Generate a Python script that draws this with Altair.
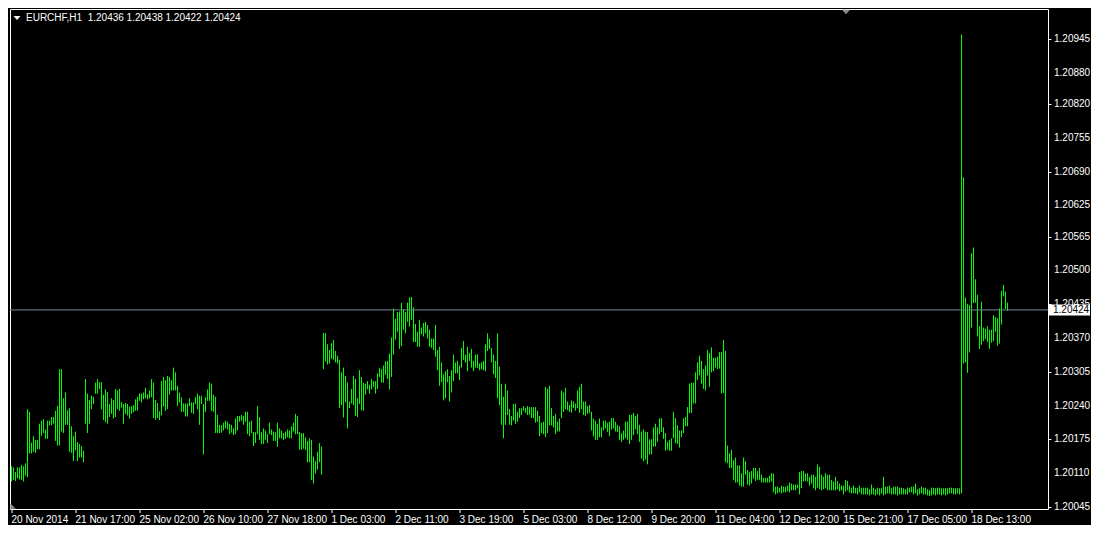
import altair as alt
import pandas as pd

symbol = "EURCHF,H1"
last_bar_ohlc = [1.20436, 1.20438, 1.20422, 1.20424]
bid_price = 1.20424

bar_high = [
    1.20123,1.20121,1.20112,1.20121,1.20121,1.20126,1.20123,1.20129,1.20233,1.20228,
    1.20169,1.20181,1.20174,1.20174,1.20205,1.20211,1.20214,1.20194,1.20211,1.20211,
    1.20218,1.20218,1.20230,1.20239,1.20310,1.20310,1.20254,1.20265,1.20231,1.20235,
    1.20200,1.20181,1.20190,1.20170,1.20166,1.20162,1.20153,1.20291,1.20263,1.20251,
    1.20259,1.20257,1.20284,1.20291,1.20285,1.20285,1.20261,1.20271,1.20266,1.20243,
    1.20254,1.20251,1.20272,1.20269,1.20272,1.20247,1.20243,1.20245,1.20243,1.20238,
    1.20239,1.20241,1.20252,1.20257,1.20263,1.20263,1.20265,1.20274,1.20262,1.20269,
    1.20291,1.20284,1.20251,1.20245,1.20229,1.20287,1.20295,1.20289,1.20297,1.20295,
    1.20289,1.20313,1.20304,1.20278,1.20265,1.20256,1.20244,1.20244,1.20244,1.20254,
    1.20246,1.20246,1.20256,1.20263,1.20259,1.20259,1.20243,1.20256,1.20271,1.20284,
    1.20282,1.20261,1.20257,1.20222,1.20203,1.20202,1.20207,1.20211,1.20209,1.20205,
    1.20203,1.20196,1.20215,1.20220,1.20220,1.20222,1.20220,1.20228,1.20228,1.20209,
    1.20211,1.20189,1.20189,1.20239,1.20218,1.20189,1.20196,1.20192,1.20185,1.20207,
    1.20194,1.20190,1.20189,1.20207,1.20196,1.20192,1.20187,1.20190,1.20194,1.20192,
    1.20200,1.20207,1.20224,1.20220,1.20189,1.20187,1.20187,1.20179,1.20172,1.20177,
    1.20174,1.20142,1.20133,1.20151,1.20168,1.20161,1.20380,1.20379,1.20358,1.20347,
    1.20360,1.20366,1.20345,1.20336,1.20328,1.20304,1.20313,1.20297,1.20285,1.20248,
    1.20272,1.20297,1.20291,1.20254,1.20308,1.20295,1.20284,1.20282,1.20287,1.20280,
    1.20291,1.20287,1.20287,1.20302,1.20312,1.20310,1.20317,1.20325,1.20326,1.20340,
    1.20371,1.20427,1.20407,1.20420,1.20421,1.20438,1.20425,1.20420,1.20438,1.20448,
    1.20449,1.20429,1.20397,1.20382,1.20405,1.20390,1.20399,1.20401,1.20395,1.20386,
    1.20369,1.20369,1.20395,1.20347,1.20353,1.20323,1.20300,1.20306,1.20310,1.20297,
    1.20308,1.20338,1.20323,1.20326,1.20317,1.20351,1.20364,1.20338,1.20353,1.20341,
    1.20349,1.20326,1.20338,1.20339,1.20321,1.20323,1.20326,1.20358,1.20379,1.20369,
    1.20351,1.20338,1.20326,1.20379,1.20315,1.20282,1.20257,1.20282,1.20269,1.20233,
    1.20220,1.20243,1.20244,1.20228,1.20235,1.20235,1.20239,1.20235,1.20239,1.20237,
    1.20237,1.20237,1.20237,1.20230,1.20220,1.20207,1.20209,1.20276,1.20272,1.20278,
    1.20235,1.20220,1.20224,1.20209,1.20215,1.20269,1.20265,1.20274,1.20248,1.20241,
    1.20250,1.20248,1.20244,1.20269,1.20276,1.20282,1.20248,1.20248,1.20239,1.20241,
    1.20228,1.20215,1.20211,1.20205,1.20215,1.20198,1.20211,1.20211,1.20207,1.20209,
    1.20216,1.20216,1.20209,1.20203,1.20200,1.20187,1.20192,1.20209,1.20209,1.20222,
    1.20222,1.20226,1.20220,1.20224,1.20203,1.20190,1.20194,1.20190,1.20189,1.20175,
    1.20175,1.20198,1.20205,1.20198,1.20215,1.20216,1.20198,1.20187,1.20170,1.20174,
    1.20177,1.20228,1.20216,1.20202,1.20192,1.20192,1.20215,1.20218,1.20237,1.20282,
    1.20284,1.20284,1.20304,1.20323,1.20336,1.20326,1.20310,1.20317,1.20347,1.20341,
    1.20352,1.20332,1.20332,1.20334,1.20343,1.20343,1.20366,1.20345,1.20163,1.20148,
    1.20155,1.20135,1.20140,1.20125,1.20125,1.20110,1.20140,1.20133,1.20116,1.20112,
    1.20114,1.20120,1.20120,1.20114,1.20120,1.20107,1.20101,1.20101,1.20101,1.20105,
    1.20110,1.20109,1.20084,1.20084,1.20082,1.20086,1.20084,1.20084,1.20086,1.20092,
    1.20090,1.20088,1.20088,1.20088,1.20112,1.20114,1.20114,1.20109,1.20110,1.20103,
    1.20107,1.20107,1.20103,1.20127,1.20122,1.20107,1.20103,1.20110,1.20107,1.20107,
    1.20097,1.20094,1.20103,1.20095,1.20090,1.20086,1.20086,1.20097,1.20095,1.20086,
    1.20082,1.20086,1.20082,1.20082,1.20086,1.20082,1.20082,1.20082,1.20082,1.20079,
    1.20088,1.20082,1.20079,1.20082,1.20081,1.20081,1.20103,1.20084,1.20084,1.20086,
    1.20081,1.20084,1.20084,1.20084,1.20082,1.20082,1.20081,1.20079,1.20082,1.20082,
    1.20084,1.20084,1.20090,1.20079,1.20081,1.20084,1.20082,1.20082,1.20079,1.20077,
    1.20082,1.20082,1.20081,1.20082,1.20082,1.20081,1.20081,1.20081,1.20081,1.20082,
    1.20082,1.20081,1.20081,1.20081,1.20081,1.20954,1.20679,1.20448,1.20436,1.20433,
    1.20533,1.20544,1.20483,1.20453,1.20393,1.20440,1.20390,1.20388,1.20393,1.20386,
    1.20386,1.20414,1.20410,1.20408,1.20427,1.20461,1.20472,1.20459,1.20438,
]

bar_low = [
    1.20094,1.20097,1.20095,1.20100,1.20098,1.20097,1.20094,1.20105,1.20102,1.20148,
    1.20148,1.20151,1.20149,1.20156,1.20156,1.20182,1.20187,1.20176,1.20176,1.20202,
    1.20202,1.20205,1.20172,1.20163,1.20163,1.20190,1.20187,1.20203,1.20203,1.20151,
    1.20149,1.20133,1.20154,1.20133,1.20140,1.20140,1.20131,1.20205,1.20187,1.20205,
    1.20233,1.20243,1.20263,1.20263,1.20272,1.20233,1.20212,1.20208,1.20205,1.20218,
    1.20224,1.20215,1.20218,1.20233,1.20230,1.20236,1.20205,1.20224,1.20221,1.20215,
    1.20224,1.20227,1.20230,1.20230,1.20249,1.20246,1.20252,1.20254,1.20252,1.20254,
    1.20256,1.20216,1.20213,1.20216,1.20212,1.20221,1.20238,1.20230,1.20233,1.20261,
    1.20269,1.20269,1.20269,1.20239,1.20246,1.20228,1.20228,1.20219,1.20219,1.20239,
    1.20226,1.20224,1.20243,1.20233,1.20203,1.20243,1.20146,1.20228,1.20249,1.20249,
    1.20230,1.20228,1.20187,1.20187,1.20187,1.20188,1.20192,1.20196,1.20194,1.20185,
    1.20188,1.20183,1.20185,1.20192,1.20209,1.20211,1.20203,1.20209,1.20185,1.20181,
    1.20187,1.20162,1.20168,1.20185,1.20174,1.20166,1.20166,1.20174,1.20168,1.20185,
    1.20183,1.20172,1.20172,1.20161,1.20177,1.20177,1.20174,1.20176,1.20179,1.20177,
    1.20177,1.20190,1.20185,1.20185,1.20155,1.20155,1.20157,1.20155,1.20131,1.20131,
    1.20097,1.20090,1.20109,1.20117,1.20131,1.20107,1.20310,1.20325,1.20319,1.20321,
    1.20330,1.20328,1.20323,1.20321,1.20235,1.20241,1.20217,1.20246,1.20196,1.20235,
    1.20244,1.20241,1.20220,1.20218,1.20243,1.20231,1.20230,1.20261,1.20271,1.20263,
    1.20271,1.20276,1.20263,1.20272,1.20295,1.20284,1.20284,1.20299,1.20291,1.20271,
    1.20295,1.20338,1.20367,1.20382,1.20349,1.20354,1.20386,1.20379,1.20401,1.20392,
    1.20405,1.20362,1.20362,1.20353,1.20353,1.20377,1.20373,1.20379,1.20369,1.20353,
    1.20351,1.20347,1.20334,1.20308,1.20278,1.20285,1.20250,1.20254,1.20285,1.20248,
    1.20265,1.20287,1.20302,1.20302,1.20289,1.20313,1.20328,1.20323,1.20306,1.20326,
    1.20313,1.20306,1.20313,1.20312,1.20308,1.20310,1.20308,1.20306,1.20345,1.20349,
    1.20323,1.20300,1.20293,1.20254,1.20241,1.20203,1.20177,1.20203,1.20222,1.20203,
    1.20202,1.20211,1.20205,1.20209,1.20216,1.20222,1.20230,1.20226,1.20222,1.20222,
    1.20216,1.20216,1.20207,1.20209,1.20181,1.20187,1.20185,1.20179,1.20187,1.20202,
    1.20202,1.20198,1.20185,1.20190,1.20190,1.20216,1.20228,1.20233,1.20231,1.20228,
    1.20226,1.20235,1.20230,1.20235,1.20226,1.20233,1.20222,1.20220,1.20224,1.20226,
    1.20192,1.20181,1.20174,1.20174,1.20179,1.20179,1.20192,1.20196,1.20189,1.20181,
    1.20194,1.20196,1.20190,1.20189,1.20174,1.20170,1.20174,1.20177,1.20174,1.20166,
    1.20174,1.20183,1.20194,1.20185,1.20170,1.20138,1.20133,1.20136,1.20127,1.20146,
    1.20146,1.20161,1.20161,1.20170,1.20185,1.20189,1.20176,1.20153,1.20155,1.20153,
    1.20153,1.20177,1.20168,1.20166,1.20159,1.20179,1.20187,1.20200,1.20200,1.20226,
    1.20226,1.20244,1.20244,1.20289,1.20298,1.20282,1.20272,1.20269,1.20298,1.20276,
    1.20304,1.20306,1.20313,1.20310,1.20311,1.20263,1.20264,1.20131,1.20129,1.20120,
    1.20120,1.20097,1.20092,1.20092,1.20086,1.20084,1.20084,1.20107,1.20088,1.20086,
    1.20090,1.20099,1.20095,1.20097,1.20097,1.20092,1.20092,1.20092,1.20092,1.20092,
    1.20094,1.20073,1.20069,1.20071,1.20073,1.20071,1.20073,1.20073,1.20075,1.20073,
    1.20077,1.20077,1.20077,1.20081,1.20069,1.20081,1.20094,1.20095,1.20094,1.20086,
    1.20090,1.20081,1.20077,1.20082,1.20079,1.20077,1.20079,1.20081,1.20077,1.20077,
    1.20077,1.20077,1.20077,1.20079,1.20075,1.20077,1.20069,1.20075,1.20077,1.20073,
    1.20071,1.20071,1.20071,1.20069,1.20073,1.20069,1.20069,1.20069,1.20069,1.20067,
    1.20069,1.20069,1.20067,1.20069,1.20067,1.20071,1.20067,1.20069,1.20071,1.20071,
    1.20069,1.20069,1.20069,1.20067,1.20069,1.20069,1.20069,1.20069,1.20069,1.20073,
    1.20073,1.20069,1.20071,1.20067,1.20069,1.20071,1.20069,1.20069,1.20067,1.20066,
    1.20067,1.20069,1.20067,1.20069,1.20069,1.20067,1.20069,1.20067,1.20069,1.20071,
    1.20071,1.20069,1.20069,1.20071,1.20069,1.20071,1.20321,1.20323,1.20303,1.20342,
    1.20390,1.20437,1.20438,1.20373,1.20349,1.20357,1.20364,1.20368,1.20362,1.20349,
    1.20361,1.20364,1.20382,1.20355,1.20359,1.20396,1.20450,1.20426,1.20422,
]

x_tick_labels = [
    "20 Nov 2014", "21 Nov 17:00", "25 Nov 02:00", "26 Nov 10:00",
    "27 Nov 18:00", "1 Dec 03:00", "2 Dec 11:00", "3 Dec 19:00",
    "5 Dec 03:00", "8 Dec 12:00", "9 Dec 20:00", "11 Dec 04:00",
    "12 Dec 12:00", "15 Dec 21:00", "17 Dec 05:00", "18 Dec 13:00",
]
x_tick_bars = [0, 32, 64, 96, 128, 160, 192, 224, 256, 288, 320, 352, 384, 416, 448, 480]

y_tick_values = [
    1.20945, 1.20880, 1.20820, 1.20755, 1.20690, 1.20625, 1.20565, 1.20500,
    1.20435, 1.20370, 1.20305, 1.20240, 1.20175, 1.20110, 1.20045,
]

assert len(bar_high) == len(bar_low)

PLOT_W, PLOT_H = 1038, 500
FONT = "Liberation Sans"
GREEN = "#00FF00"
GREY = "#8C8C8C"

df = pd.DataFrame({"bar": list(range(len(bar_high))), "high": bar_high, "low": bar_low})

x_scale = alt.Scale(domain=[-0.75, PLOT_W / 2 - 0.75], nice=False, zero=False)
y_scale = alt.Scale(domain=[1.20041, 1.21003], nice=False, zero=False)

vals_js = "[" + ",".join(str(v) for v in x_tick_bars) + "]"
labs_js = "[" + ",".join("'" + s + "'" for s in x_tick_labels) + "]"
label_expr = f"{labs_js}[indexof({vals_js}, datum.value)]"

x_axis = alt.Axis(
    orient="bottom", values=x_tick_bars, labelExpr=label_expr, title=None,
    grid=False, domain=False, ticks=True, tickColor="white", tickSize=4, tickWidth=1,
    labelColor="white", labelFont=FONT, labelFontSize=10, labelAlign="left",
    labelBaseline="top", labelPadding=2, labelFlush=False, labelOverlap=False,
    labelBound=False, translate=0,
)
y_axis = alt.Axis(
    orient="right", values=y_tick_values, title=None, labels=False,
    grid=False, domain=False, ticks=True, tickColor="white", tickSize=3, tickWidth=1,
)

bars = alt.Chart(df).mark_rule(color=GREEN, strokeWidth=1).encode(
    x=alt.X("bar:Q", scale=x_scale, axis=x_axis),
    y=alt.Y("low:Q", scale=y_scale, axis=y_axis),
    y2=alt.Y2("high"),
)

ytick_df = pd.DataFrame({"v": y_tick_values})
y_labels = alt.Chart(ytick_df).mark_text(
    color="white", align="left", baseline="middle", font=FONT, fontSize=10
).encode(
    x=alt.value(PLOT_W + 6), y=alt.Y("v:Q"), text=alt.Text("v:Q", format=".5f")
)

bid_df = pd.DataFrame({"label": [f"{bid_price:.5f}"]})
bid_line = alt.Chart(bid_df).mark_rule(color="#778899", strokeWidth=1).encode(
    y=alt.datum(bid_price)
)
bid_box = alt.Chart(bid_df).mark_rect(color="white", yOffset=-5.5, y2Offset=5.5).encode(
    x=alt.value(PLOT_W + 1), x2=alt.value(PLOT_W + 42),
    y=alt.datum(bid_price), y2=alt.datum(bid_price),
)
bid_text = alt.Chart(bid_df).mark_text(
    color="black", align="left", baseline="middle", font=FONT, fontSize=10
).encode(x=alt.value(PLOT_W + 5), y=alt.datum(bid_price), text="label:N")

header_df = pd.DataFrame(
    {"t": [symbol + "\u00a0 " + " ".join(f"{v:.5f}" for v in last_bar_ohlc)]}
)
header = alt.Chart(header_df).mark_text(
    color="white", align="left", baseline="alphabetic", font=FONT, fontSize=10
).encode(x=alt.value(16), y=alt.value(12), text="t:N")

one = pd.DataFrame({"k": [0]})
tri_down = "M-1,-0.55L1,-0.55L0,0.55Z"
menu_tri = alt.Chart(one).mark_point(
    shape=tri_down, filled=True, color="white", size=49, opacity=1
).encode(x=alt.value(7), y=alt.value(9))
shift_tri = alt.Chart(one).mark_point(
    shape=tri_down, filled=True, color=GREY, size=64, opacity=1
).encode(x=alt.value(836), y=alt.value(3))
corner_tri = alt.Chart(one).mark_point(
    shape="M-1,1L1,1L-1,-1Z", filled=True, color=GREY, size=30, opacity=1
).encode(x=alt.value(3), y=alt.value(PLOT_H - 3))

chart = alt.layer(
    bars, y_labels, bid_line, bid_box, bid_text, header, menu_tri, shift_tri, corner_tri
).properties(
    width=PLOT_W, height=PLOT_H,
    padding={"left": 1, "top": 1, "right": 0, "bottom": 0},
    background="black",
).configure_view(
    stroke="white", strokeWidth=1, fill="black"
)

chart.save("out.html", embed_options={"renderer": "svg", "actions": False})
